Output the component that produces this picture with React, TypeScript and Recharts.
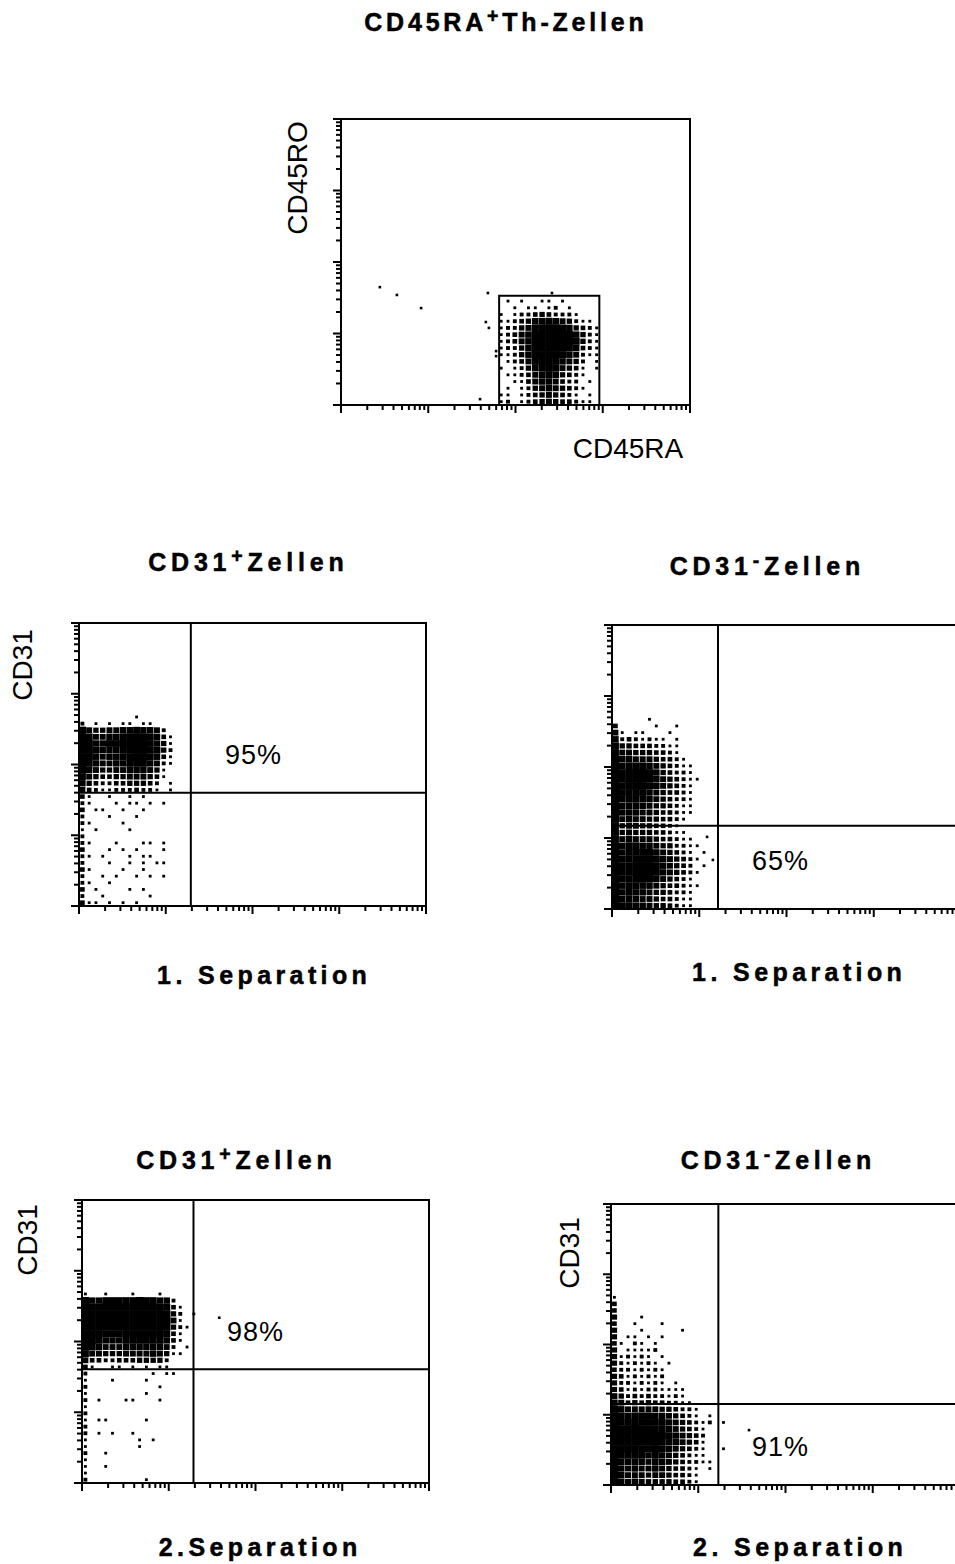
import React from 'react';
import { ScatterChart, Scatter, XAxis, YAxis, ReferenceArea, ReferenceLine } from 'recharts';

const FONT = '"Liberation Sans", Arial, Helvetica, sans-serif';

// four-decade log display, 1024 channels (256 per decade)
const CHANNELS = 1024;
const DECADE = 256;
const DECADE_STEPS = [1, 2, 3, 4, 5, 6, 7, 8, 9];
// size of one density cell, in channels
const CELL_X = 20;
const CELL_Y = 24;

const logTicks = [
  ...[0, 1, 2, 3].flatMap((d) => DECADE_STEPS.map((k) => DECADE * (d + Math.log10(k)))),
  CHANNELS,
];

// dot density per cell (0-9), rows listed top to bottom

// CD45RA+ sort, CD45RA vs CD45RO
const sortOrigin = [460, 0];
const sortDensity = [
  '010100110100000',
  '001011012010000',
  '101223432221000',
  '112346676542110',
  '122457898764321',
  '123568999986421',
  '123568999987421',
  '122468998876321',
  '112468898765211',
  '012357887654201',
  '101246787543101',
  '011235676432100',
  '001135665322010',
  '010124565432100',
  '110123454321010',
  '120123454332110',
];
const sortStray = [
  [114, 422], [164, 394], [235, 347], [431, 401], [425, 297],
  [434, 276], [455, 193], [455, 175], [408, 21], [619, 401],
];
const sortGate = { x1: 464, x2: 758, y1: 0, y2: 391 };

// CD31+ after 1st separation
const pos1Density = [
  '000000001000000',
  '201010110110000',
  '854455667665200',
  '975566788876310',
  '986677888876410',
  '987666788877420',
  '986566778876310',
  '976556677765210',
  '865445566654100',
  '754334455543100',
  '643223344432010',
  '532112223221010',
  '310010010100000',
  '210001011010100',
  '301100100100000',
  '200010001000000',
  '210000100000000',
  '101000010000000',
  '200000000000000',
  '210001000110100',
  '300010101000100',
  '210100010110000',
  '200010010101100',
  '310000100100000',
  '200101001010100',
  '210010000000000',
  '301000010100000',
  '200100000010000',
  '311010101000000',
];
const pos1Gate = { x: 330, y: 410 };

// CD31- after 1st separation
const neg1Density = [
  '000001000000000',
  '300000100100000',
  '510110001000000',
  '623212110100000',
  '744333221100000',
  '755444332100000',
  '866555433210000',
  '867776543211000',
  '878887643221000',
  '878887654321100',
  '878887654321000',
  '877776543321000',
  '867766543221000',
  '866665443211000',
  '866655433211000',
  '856554433210000',
  '745544332100000',
  '745444332110000',
  '756555433211000',
  '867766544221100',
  '867777654321010',
  '877788765432100',
  '877888765432010',
  '877888765432100',
  '877787654321000',
  '867766543321100',
  '867665443221000',
  '866655433211000',
  '877665443211000',
];
const neg1Stray = [[279, 260], [296, 177]];
const neg1Gate = { x: 311, y: 300 };

// CD31+ after 2nd separation
const pos2Density = [
  '10010001000100000',
  '86677777877662000',
  '98888899998873100',
  '99999899999984201',
  '99999899999985100',
  '99988898989884210',
  '99877788888873100',
  '98766677777763100',
  '87655566666652010',
  '75544455556541100',
  '53322333444420000',
  '31001101010110000',
  '20000000001011000',
  '10001000010000000',
  '20000000000100000',
  '10000000010000000',
  '20100011000100000',
  '10000000000000000',
  '20000000000000000',
  '10110000010000000',
  '20000000000000000',
  '20101001000000000',
  '10000000101000000',
  '10000000100000000',
  '20010000000000000',
  '10000000000000000',
  '10010000000000000',
  '10000000000000000',
  '20000000010000000',
];
const pos2Stray = [[405, 598]];
const pos2Gate = { x: 329, y: 412 };

// CD31- after 2nd separation
const neg2Density = [
  '10000000000000000',
  '30000000000000000',
  '30000000000000000',
  '40001000000000000',
  '30010001000000000',
  '40001000001000000',
  '40110101000000000',
  '31021010000000000',
  '40111120000000000',
  '41212101000000000',
  '42121210100000000',
  '32212121000000000',
  '43121212000000000',
  '42212121010000000',
  '43121221111000000',
  '54232322121000000',
  '65343433221100000',
  '86555554432210000',
  '97677766543210100',
  '97787777654321201',
  '98888877654321000',
  '98888888765432000',
  '98888887665431000',
  '98887787654321001',
  '97777676543211000',
  '96666566543221100',
  '96565565433210100',
  '86555455433210000',
  '86565444433210000',
];
const neg2Stray = [[405, 200]];
const neg2Gate = { x: 315, y: 295 };

type Cell = { x: number; y: number; d: number };

const toCells = (rows: string[], x0 = 0, y0 = 0): Cell[] => {
  const out: Cell[] = [];
  rows.forEach((row, j) => {
    const k = rows.length - 1 - j;
    row.split('').forEach((c, i) => {
      const d = Number(c);
      if (d > 0) out.push({ x: x0 + (i + 0.5) * CELL_X, y: y0 + (k + 0.5) * CELL_Y, d });
    });
  });
  return out;
};

const toPoints = (pts: number[][]) => pts.map(([x, y]) => ({ x, y }));

const isMajor = (v: number) => Math.abs(v / DECADE - Math.round(v / DECADE)) < 1e-6;

const XTick = (props: any) => {
  const { x, y, payload } = props;
  const len = isMajor(payload.value) ? 8 : 5;
  return <line x1={x} y1={y} x2={x} y2={y + len} stroke="#000" strokeWidth={2} />;
};

const YTick = (props: any) => {
  const { x, y, payload } = props;
  const len = isMajor(payload.value) ? 8 : 5;
  return <line x1={x} y1={y} x2={x - len} y2={y} stroke="#000" strokeWidth={2} />;
};

type PlotProps = {
  left: number;
  top: number;
  w: number;
  h: number;
  cells: Cell[];
  stray?: { x: number; y: number }[];
  quad?: { x: number; y: number };
  gate?: { x1: number; x2: number; y1: number; y2: number };
};

const FlowPlot = ({ left, top, w, h, cells, stray = [], quad, gate }: PlotProps) => {
  const cw = (CELL_X / CHANNELS) * w;
  const chh = (CELL_Y / CHANNELS) * h;

  // each cell is a black square whose size follows the dot density
  const cellShape = (p: any) => {
    const f = Math.sqrt(p.payload.d / 9) * 1.12;
    const sw = Math.min(cw * f + 0.3, cw + 0.6);
    const sh = Math.min(chh * f + 0.3, chh + 0.6);
    return <rect x={p.cx - sw / 2} y={p.cy - sh / 2} width={sw} height={sh} fill="#000" />;
  };
  const dotShape = (p: any) => (
    <rect x={p.cx - 1.3} y={p.cy - 1.3} width={2.6} height={2.6} fill="#000" />
  );

  return (
    <div style={{ position: 'absolute', left: left - 20, top: top - 10 }}>
      <ScatterChart width={w + 30} height={h + 30} margin={{ top: 10, right: 10, bottom: 0, left: 0 }}>
        <XAxis
          type="number"
          dataKey="x"
          domain={[0, CHANNELS]}
          ticks={logTicks}
          interval={0}
          tick={<XTick />}
          tickLine={false}
          axisLine={false}
          tickSize={0}
          tickMargin={0}
          height={20}
          allowDataOverflow
        />
        <YAxis
          type="number"
          dataKey="y"
          domain={[0, CHANNELS]}
          ticks={logTicks}
          interval={0}
          tick={<YTick />}
          tickLine={false}
          axisLine={false}
          tickSize={0}
          tickMargin={0}
          width={20}
          allowDataOverflow
        />
        <Scatter data={cells} shape={cellShape} isAnimationActive={false} />
        <Scatter data={stray} shape={dotShape} isAnimationActive={false} />
        {gate && (
          <ReferenceArea
            x1={gate.x1}
            x2={gate.x2}
            y1={gate.y1}
            y2={gate.y2}
            fill="none"
            stroke="#000"
            strokeWidth={2}
          />
        )}
        {quad && <ReferenceLine x={quad.x} stroke="#000" strokeWidth={2} />}
        {quad && <ReferenceLine y={quad.y} stroke="#000" strokeWidth={2} />}
        <ReferenceArea x1={0} x2={CHANNELS} y1={0} y2={CHANNELS} fill="none" stroke="#000" strokeWidth={2} />
      </ScatterChart>
    </div>
  );
};

type CaptionProps = {
  x: number;
  y: number;
  size: number;
  bold?: boolean;
  spacing?: number;
  vertical?: boolean;
  children: React.ReactNode;
};

const Caption = ({ x, y, size, bold, spacing = 0, vertical, children }: CaptionProps) => (
  <div
    style={{
      position: 'absolute',
      left: x,
      top: y,
      transform: `translate(-50%, -50%)${vertical ? ' rotate(-90deg)' : ''}`,
      fontFamily: FONT,
      fontSize: size,
      fontWeight: bold ? 700 : 400,
      WebkitTextStroke: bold ? '0.5px #000' : undefined,
      letterSpacing: spacing,
      paddingLeft: spacing,
      lineHeight: 1,
      whiteSpace: 'nowrap',
      color: '#000',
    }}
  >
    {children}
  </div>
);

const Sup = ({ children }: { children: React.ReactNode }) => (
  <span style={{ fontSize: '0.78em', position: 'relative', top: '-0.4em' }}>{children}</span>
);

const TITLE = 25;
const LABEL = 28;
const PCT = 27;

export default function App() {
  return (
    <div
      style={{
        position: 'absolute',
        left: 0,
        top: 0,
        width: 955,
        height: 1564,
        overflow: 'hidden',
        background: '#fff',
      }}
    >
      <Caption x={504} y={22} size={TITLE} bold spacing={3.8}>
        CD45RA<Sup>+</Sup>Th-Zellen
      </Caption>
      <FlowPlot left={341} top={119} w={349} h={286} cells={toCells(sortDensity, sortOrigin[0], sortOrigin[1])} stray={toPoints(sortStray)} gate={sortGate} />
      <Caption x={298} y={178} size={LABEL} vertical>CD45RO</Caption>
      <Caption x={628} y={449} size={LABEL}>CD45RA</Caption>

      <Caption x={246} y={562} size={TITLE} bold spacing={4.8}>
        CD31<Sup>+</Sup>Zellen
      </Caption>
      <FlowPlot left={79} top={623} w={347} h={283} cells={toCells(pos1Density)} quad={pos1Gate} />
      <Caption x={23} y={665} size={LABEL} vertical>CD31</Caption>
      <Caption x={253} y={755} size={PCT} spacing={1}>95%</Caption>
      <Caption x={262} y={975} size={TITLE} bold spacing={4.4}>1. Separation</Caption>

      <Caption x={765} y={566} size={TITLE} bold spacing={4.8}>
        CD31<Sup>-</Sup>Zellen
      </Caption>
      <FlowPlot left={612} top={625} w={349} h={284} cells={toCells(neg1Density)} stray={toPoints(neg1Stray)} quad={neg1Gate} />
      <Caption x={780} y={861} size={PCT} spacing={1}>65%</Caption>
      <Caption x={797} y={972} size={TITLE} bold spacing={4.4}>1. Separation</Caption>

      <Caption x={234} y={1160} size={TITLE} bold spacing={4.8}>
        CD31<Sup>+</Sup>Zellen
      </Caption>
      <FlowPlot left={82} top={1200} w={347} h={283} cells={toCells(pos2Density)} stray={toPoints(pos2Stray)} quad={pos2Gate} />
      <Caption x={28} y={1240} size={LABEL} vertical>CD31</Caption>
      <Caption x={255} y={1332} size={PCT} spacing={1}>98%</Caption>
      <Caption x={258} y={1547} size={TITLE} bold spacing={4.4}>2.Separation</Caption>

      <Caption x={776} y={1160} size={TITLE} bold spacing={4.8}>
        CD31<Sup>-</Sup>Zellen
      </Caption>
      <FlowPlot left={611} top={1204} w={349} h={281} cells={toCells(neg2Density)} stray={toPoints(neg2Stray)} quad={neg2Gate} />
      <Caption x={570} y={1253} size={LABEL} vertical>CD31</Caption>
      <Caption x={780} y={1447} size={PCT} spacing={1}>91%</Caption>
      <Caption x={798} y={1547} size={TITLE} bold spacing={4.4}>2. Separation</Caption>
    </div>
  );
}
